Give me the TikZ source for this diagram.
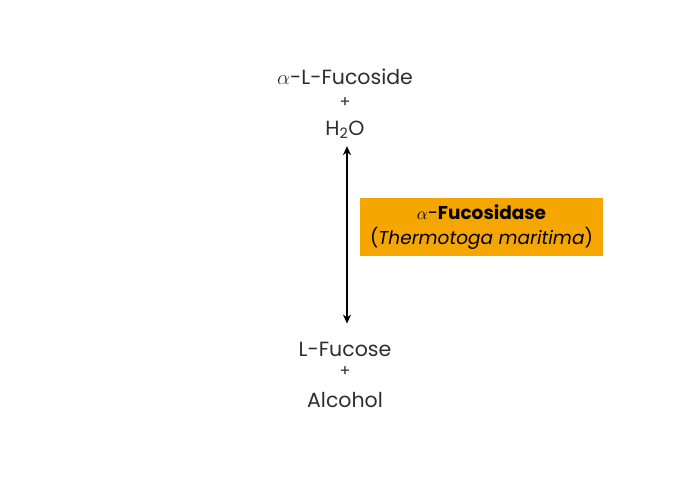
\documentclass[tikz,border=0pt]{standalone}
\usepackage{fontspec}
\setmainfont{Poppins}
\usepackage{tikz}
\usetikzlibrary{arrows.meta, positioning}

\definecolor{enzymeorange}{RGB}{245,166,0}
\definecolor{textgray}{RGB}{45,45,45}

\begin{document}
\begin{tikzpicture}[
      x=1pt, y=1pt,
      chem/.style={inner sep=0pt, text=textgray, font=\fontsize{20.5}{22}\selectfont},
      plus/.style={inner sep=0pt, text=textgray, font=\fontsize{16}{16}\selectfont},
      enzymebox/.style={rectangle, fill=enzymeorange, minimum width=243pt, minimum height=58pt, align=center, font=\fontsize{18.5}{25}\selectfont},
      arrow/.style={{Stealth[length=9pt,width=8pt]}-{Stealth[length=9pt,width=8pt]}, line width=1.6pt}
      ]

      \useasboundingbox (0,0) rectangle (690,480);

      % Substrates
      \node[chem] (fucoside) at (345,403) {$\alpha$-L-Fucoside};
      \node[plus] (plusA) at (345,377) {+};
      \node[chem] (water) at (345,350) {H\textsubscript{2}O};

      % Products
      \node[chem] (fucose) at (345,131) {L-Fucose};
      \node[plus] (plusB) at (345,108) {+};
      \node[chem] (alcohol) at (345,80) {Alcohol};

      % Enzyme
      \node[enzymebox] (enzyme) at (481.5,253) {$\alpha$-\textbf{Fucosidase}\\(\textit{Thermotoga maritima})};

      % Reaction arrow
      \draw[arrow] ([xshift=2pt,yshift=-7pt]water.south) -- ([xshift=2pt,yshift=18pt]fucose.north);

   \end{tikzpicture}
\end{document}
